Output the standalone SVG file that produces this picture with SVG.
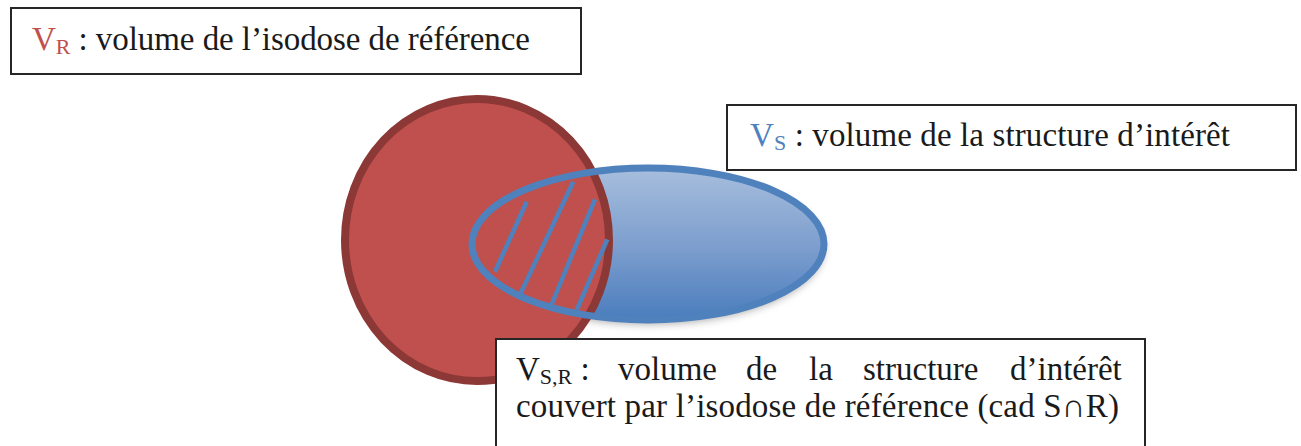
<svg xmlns="http://www.w3.org/2000/svg" width="1301" height="446" viewBox="0 0 1301 446">
  <style>
    .box { fill: #ffffff; stroke: #262626; stroke-width: 2; }
    .t { font-family: "Liberation Serif", "DejaVu Serif", serif; font-size: 33px; fill: #1a1a1a; }
    .sub { font-size: 22px; }
    .red { fill: #C0504D; }
    .blue { fill: #4F81BD; }
    .hatch { stroke: #4F81BD; stroke-width: 4.5; stroke-linecap: butt; }
  </style>
  <defs>
    <linearGradient id="blueGrad" x1="0" y1="0" x2="0" y2="1">
      <stop offset="0" stop-color="#A7BEDD"/>
      <stop offset="0.55" stop-color="#7A9CCD"/>
      <stop offset="1" stop-color="#4A7DBD"/>
    </linearGradient>
    <filter id="shadow" x="-20%" y="-20%" width="140%" height="160%">
      <feDropShadow dx="0" dy="4" stdDeviation="4" flood-color="#000000" flood-opacity="0.35"/>
    </filter>
  </defs>

  <g id="node-vr-label">
    <rect class="box" x="11" y="8" width="570" height="66"/>
    <text class="t" x="32" y="50" textLength="498"><tspan class="red">V</tspan><tspan class="red sub" dy="4">R</tspan><tspan dy="-4"> : volume de l’isodose de référence</tspan></text>
  </g>

  <g id="node-structure-fill">
    <ellipse cx="648" cy="244" rx="176" ry="76" fill="url(#blueGrad)" filter="url(#shadow)"/>
  </g>

  <g id="node-isodose">
    <ellipse cx="477" cy="240" rx="132" ry="141" fill="#C0504D" stroke="#8C3836" stroke-width="8"/>
  </g>

  <g id="node-structure">
    <ellipse cx="648" cy="244" rx="176" ry="76" fill="none" stroke="#4F81BD" stroke-width="7"/>
  </g>

  <g id="connectors">
    <line class="hatch" x1="526.7" y1="201.7" x2="495" y2="271.7"/>
    <line class="hatch" x1="573.3" y1="181.7" x2="518.3" y2="298.3"/>
    <line class="hatch" x1="595" y1="199.3" x2="550" y2="308.3"/>
    <line class="hatch" x1="607.3" y1="239.3" x2="576.7" y2="310"/>
  </g>

  <g id="node-vs-label">
    <rect class="box" x="727" y="105" width="569" height="65"/>
    <text class="t" x="750" y="146" textLength="480"><tspan class="blue">V</tspan><tspan class="blue sub" dy="4">S</tspan><tspan dy="-4"> : volume de la structure d’intérêt</tspan></text>
  </g>

  <g id="node-vsr-label">
    <rect class="box" x="496" y="339" width="649" height="120"/>
    <text class="t" y="380"><tspan x="516">V</tspan><tspan class="sub" dy="4">S,R</tspan><tspan dy="-4"> :</tspan><tspan x="618">volume</tspan><tspan x="746">de</tspan><tspan x="809">la</tspan><tspan x="863">structure</tspan><tspan x="1010">d’intérêt</tspan></text>
    <text class="t" x="516" y="417" textLength="603">couvert par l’isodose de référence (cad S∩R)</text>
  </g>
</svg>
